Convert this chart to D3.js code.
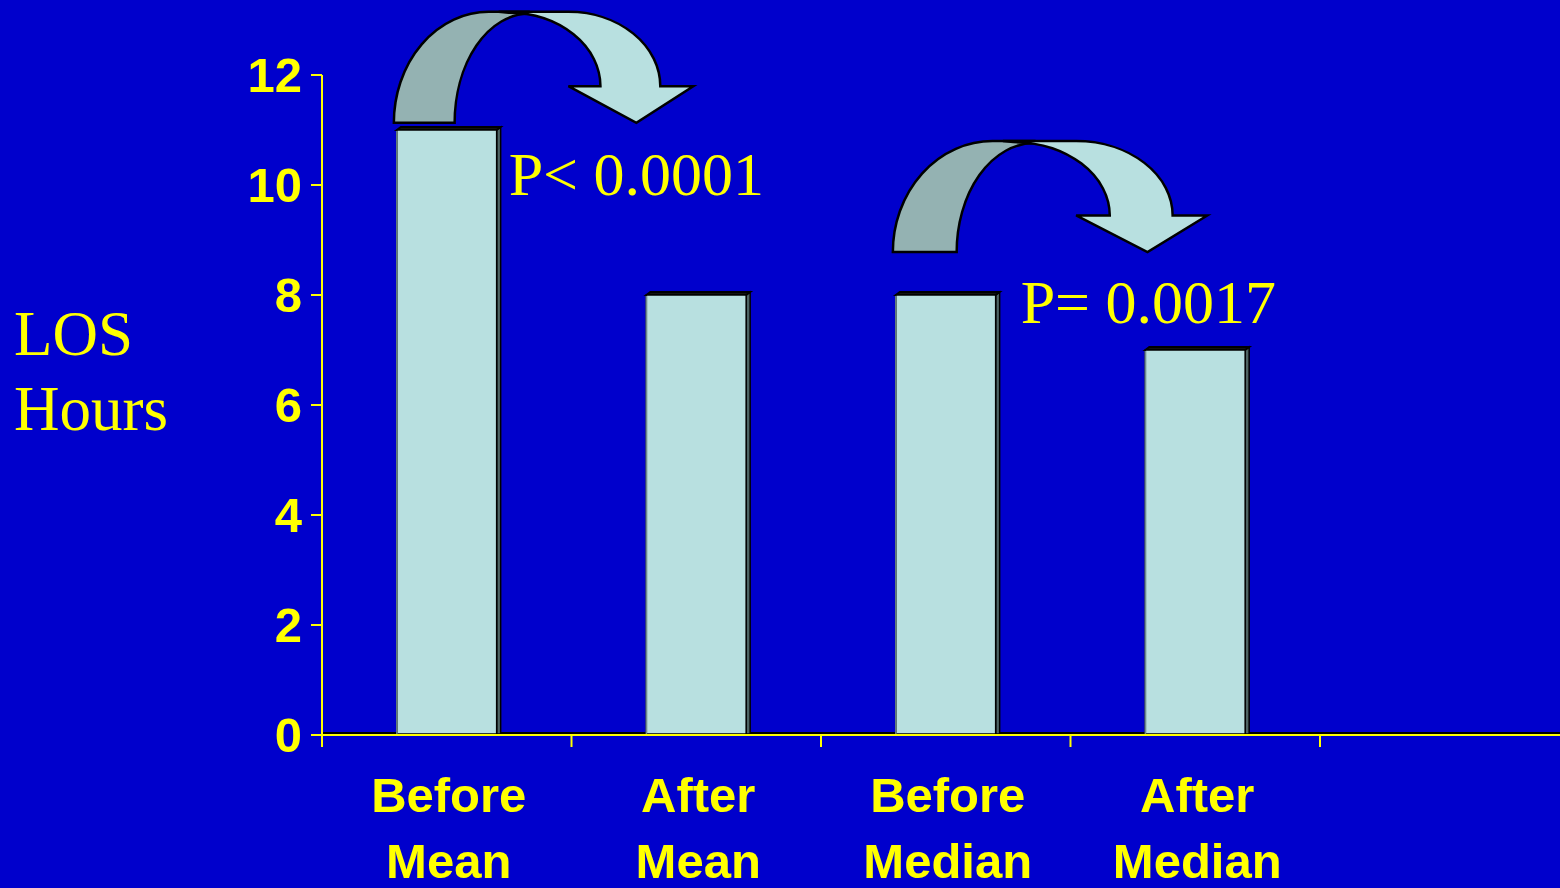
<!DOCTYPE html>
<html>
<head>
<meta charset="utf-8">
<script src="https://cdn.jsdelivr.net/npm/d3@7"></script>
<style>
  html, body { margin: 0; padding: 0; background: #0000CC; }
  svg { display: block; }
</style>
</head>
<body>
<svg id="chart" width="1560" height="888"></svg>
<script>
// Length of stay, hours, before and after the intervention
const categories = ["Before Mean", "After Mean", "Before Median", "After Median"];
const categoryLines = [["Before", "Mean"], ["After", "Mean"], ["Before", "Median"], ["After", "Median"]];
const losHours = [11, 8, 8, 7];
const yTicks = [0, 2, 4, 6, 8, 10, 12];

// Comparison annotations: arrow from one bar toward the next, with the p-value
const compareFrom = ["Before Mean", "Before Median"];
const pValueText = ["P< 0.0001", "P= 0.0017"];

const W = 1560, H = 888;
const svg = d3.select("#chart");
const YELLOW = "#FFFF00";
const BAR_FILL = "#B8E0E0";
const BAR_BACK = "#94B2B2";
const BAR_SIDE = "#4E6464";
const sans = "'Liberation Sans', Arial, sans-serif";
const serif = "'Liberation Serif', 'Times New Roman', serif";

svg.append("rect").attr("width", W).attr("height", H).attr("fill", "#0000CC");

const left = 322, step = 249.5;
const x = d3.scaleBand().domain(categories).range([left, left + step * categories.length]).padding(0);
const y = d3.scaleLinear().domain([0, 12]).range([735, 75]);
const barW = x.bandwidth() * 0.4;
const depthX = 4, depthY = 3;

// floor edge
svg.append("line")
  .attr("x1", left).attr("x2", W).attr("y1", y(0) - 2).attr("y2", y(0) - 2)
  .attr("stroke", "#000").attr("stroke-width", 2);

// bars with a shallow 3D side and top
const bars = svg.append("g").selectAll("g").data(categories).join("g");
bars.each(function (c, i) {
  const g = d3.select(this);
  const xl = x(c) + (x.bandwidth() - barW) / 2;
  const xr = xl + barW;
  const yt = y(losHours[i]);
  const yb = y(0) - 1;
  g.append("path")
    .attr("d", `M${xr},${yt} L${xr + depthX},${yt - depthY} L${xr + depthX},${yb} L${xr},${yb} Z`)
    .attr("fill", BAR_SIDE).attr("stroke", "#000").attr("stroke-width", 1.5);
  g.append("path")
    .attr("d", `M${xl},${yt} L${xl + depthX},${yt - depthY} L${xr + depthX},${yt - depthY} L${xr},${yt} Z`)
    .attr("fill", "#111").attr("stroke", "#000").attr("stroke-width", 2);
  g.append("rect")
    .attr("x", xl).attr("y", yt).attr("width", barW).attr("height", yb - yt)
    .attr("fill", BAR_FILL).attr("stroke", "#000").attr("stroke-width", 1.5);
  g.append("line")
    .attr("x1", xl).attr("x2", xl).attr("y1", yt + 1).attr("y2", yb)
    .attr("stroke", "#6E8A8A").attr("stroke-width", 1.5);
});

// y axis
const yAxis = svg.append("g").attr("transform", `translate(${left},0)`);
yAxis.append("line")
  .attr("x1", 0).attr("x2", 0).attr("y1", y(12)).attr("y2", y(0) + 12)
  .attr("stroke", YELLOW).attr("stroke-width", 2);
yAxis.selectAll("line.tick").data(yTicks).join("line")
  .attr("class", "tick")
  .attr("x1", -11).attr("x2", 0).attr("y1", d => y(d)).attr("y2", d => y(d))
  .attr("stroke", YELLOW).attr("stroke-width", 2);
yAxis.selectAll("text").data(yTicks).join("text")
  .attr("x", -20).attr("y", d => y(d))
  .attr("text-anchor", "end").attr("dominant-baseline", "central")
  .attr("fill", YELLOW).attr("font-family", sans).attr("font-weight", "bold")
  .attr("font-size", 49)
  .text(d => d);

// x axis
const xAxis = svg.append("g");
xAxis.append("line")
  .attr("x1", left).attr("x2", W).attr("y1", y(0)).attr("y2", y(0))
  .attr("stroke", YELLOW).attr("stroke-width", 2);
const boundaries = categories.map(c => x(c) + x.bandwidth()).concat([x(categories[0])]);
xAxis.selectAll("line.tick").data(boundaries).join("line")
  .attr("class", "tick")
  .attr("x1", d => d).attr("x2", d => d).attr("y1", y(0)).attr("y2", y(0) + 12)
  .attr("stroke", YELLOW).attr("stroke-width", 2);
const catLabels = xAxis.selectAll("text").data(categories).join("text")
  .attr("text-anchor", "middle")
  .attr("fill", YELLOW).attr("font-family", sans).attr("font-weight", "bold")
  .attr("font-size", 49);
catLabels.each(function (c, i) {
  const t = d3.select(this);
  categoryLines[i].forEach((line, k) => {
    t.append("tspan")
      .attr("x", x(c) + x.bandwidth() / 2 + 2)
      .attr("y", 812 + k * 66)
      .text(line);
  });
});

// y axis title
const yTitle = svg.append("text")
  .attr("fill", YELLOW).attr("font-family", serif).attr("font-size", 63);
yTitle.append("tspan").attr("x", 14).attr("y", 355).text("LOS");
yTitle.append("tspan").attr("x", 14).attr("y", 430).text("Hours");

// curved comparison arrow: back band rising on the left, front band with head on the right
function curvedArrow(x0, yb, w, h) {
  const top = yb - h;
  const yh = yb - 0.33 * h;
  const px = f => x0 + f * w;
  const back = `M${x0},${yb} A${0.317 * w},${h} 0 0 1 ${px(0.317)},${top} L${px(0.45)},${top} ` +
               `L${px(0.45)},${top + 2} A${0.247 * w},${h - 2} 0 0 0 ${px(0.203)},${yb} Z`;
  const front = `M${px(0.35)},${top} L${px(0.583)},${top} ` +
                `A${0.307 * w},${yh - top} 0 0 1 ${px(0.89)},${yh} ` +
                `L${px(1)},${yh} L${px(0.81)},${yb} L${px(0.583)},${yh} L${px(0.69)},${yh} ` +
                `A${0.307 * w},${yh - top - 1} 0 0 0 ${px(0.383)},${top + 1} Z`;
  const g = svg.append("g");
  g.append("path").attr("d", back).attr("fill", BAR_BACK)
    .attr("stroke", "#000").attr("stroke-width", 2.5).attr("stroke-linejoin", "miter");
  g.append("path").attr("d", front).attr("fill", BAR_FILL)
    .attr("stroke", "#000").attr("stroke-width", 2.5).attr("stroke-linejoin", "miter");
}

// annotation geometry, in hours above the floor and in band steps
const arrowBaseHours = [11.13, 8.78];
const arrowWidthSteps = [1.2, 1.26];
const pLabelHours = [9.82, 7.49];
const pLabelOffset = [12, 25];

compareFrom.forEach((c, i) => {
  const xl = x(c) + (x.bandwidth() - barW) / 2;
  curvedArrow(xl - 3, y(arrowBaseHours[i]), step * arrowWidthSteps[i], 111);
  svg.append("text")
    .attr("x", xl + barW + pLabelOffset[i])
    .attr("y", y(pLabelHours[i]))
    .attr("fill", YELLOW).attr("font-family", serif).attr("font-size", 62)
    .text(pValueText[i]);
});
</script>
</body>
</html>
